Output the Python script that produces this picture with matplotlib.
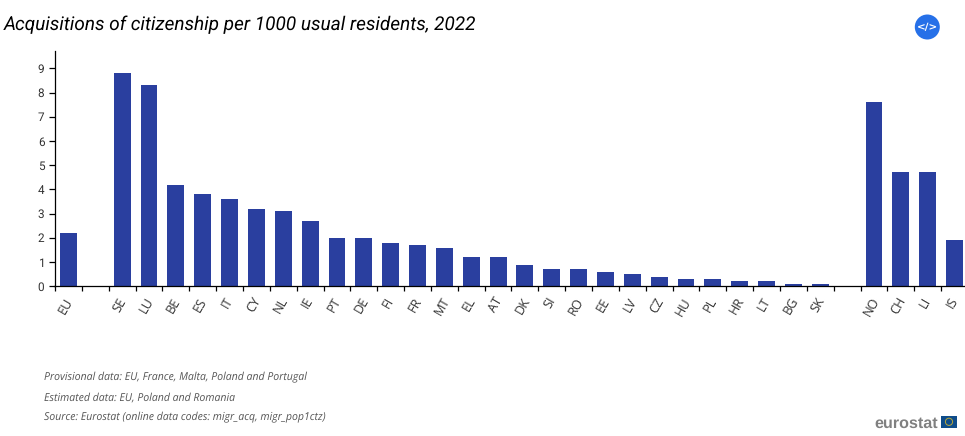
import numpy as np
import matplotlib
matplotlib.use('Agg')
import matplotlib.pyplot as plt
from matplotlib.patches import Circle, Rectangle

plt.rcParams['text.hinting'] = 'no_hinting'

countries = ['EU', '', 'SE', 'LU', 'BE', 'ES', 'IT', 'CY', 'NL', 'IE', 'PT', 'DE', 'FI', 'FR', 'MT',
             'EL', 'AT', 'DK', 'SI', 'RO', 'EE', 'LV', 'CZ', 'HU', 'PL', 'HR', 'LT', 'BG', 'SK', ' ',
             'NO', 'CH', 'LI', 'IS']
values = [2.2, 0, 8.8, 8.3, 4.2, 3.8, 3.6, 3.2, 3.1, 2.7, 2.0, 2.0, 1.8, 1.7, 1.6,
          1.2, 1.2, 0.9, 0.7, 0.7, 0.6, 0.5, 0.4, 0.3, 0.3, 0.2, 0.2, 0.1, 0.1, 0,
          7.6, 4.7, 4.7, 1.9]
yticks = [0, 1, 2, 3, 4, 5, 6, 7, 8, 9]
title = 'Acquisitions of citizenship per 1000 usual residents, 2022'
notes = ['Provisional data: EU, France, Malta, Poland and Portugal',
         'Estimated data: EU, Poland and Romania',
         'Source: Eurostat (online data codes: migr_acq, migr_pop1ctz)']

W, H = 965, 436

fig = plt.figure(figsize=(W / 100, H / 100), dpi=100)
ax = fig.add_axes([54.5 / W, 1 - 286.3 / H, 1 - 54.5 / W, (286.3 - 51) / H])

x = np.arange(len(countries))
ax.bar(x, values, width=0.63, color='#2a3f9f')
ax.set_xlim(-0.52, 33.39)
ax.set_ylim(0, (286.3 - 51) / 24.22)

ax.spines['top'].set_visible(False)
ax.spines['right'].set_visible(False)
ax.spines['left'].set_linewidth(0.9)
ax.spines['bottom'].set_linewidth(0.9)

ax.set_yticks(yticks)
ax.tick_params(axis='y', length=4.3, width=0.9, pad=3, labelsize=8.5, labelcolor='#333333')
for t in ax.get_yticklabels():
    t.set_fontfamily('Roboto')

ax.set_xticks(x - 0.5)
ax.set_xticklabels([])
ax.tick_params(axis='x', length=3.8, width=0.9)
for i, c in enumerate(countries):
    ax.annotate(c.strip(), (i, 0), xycoords=('data', 'axes fraction'), xytext=(-1.6, -6.5),
                textcoords='offset points', rotation=60, ha='center', va='top',
                fontsize=9.2, family='Open Sans', color='#333333')

# overlay in pixel coords for the title, notes, icon and logo
ov = fig.add_axes([0, 0, 1, 1], zorder=5)
ov.set_xlim(0, W)
ov.set_ylim(H, 0)
ov.axis('off')

ov.text(4, 30, title, fontsize=13.7, style='italic', family='Roboto', color='black', va='baseline')

for y, n in zip([380.5, 400.5, 420.5], notes):
    ov.text(44, y, n, fontsize=7.6, style='italic', family='Open Sans', color='#555555', va='baseline')

ov.add_patch(Circle((927.3, 27), 12.5, color='#2670e8', lw=0))
ov.text(927.3, 27.5, '</>', fontsize=7.5, weight='bold', family='DejaVu Sans', color='white', ha='center', va='center')

ov.text(874, 427.5, 'eurostat', fontsize=11.6, weight='bold', family='Liberation Sans', color='#808080', va='baseline')
ov.add_patch(Rectangle((940.7, 416), 16.5, 11.7, color='#0f4c8a', lw=0))
ov.add_patch(Circle((949, 421.8), 3.6, fill=False, ec='#b9a93a', lw=0.7))

fig.savefig('out.png', dpi=100)
